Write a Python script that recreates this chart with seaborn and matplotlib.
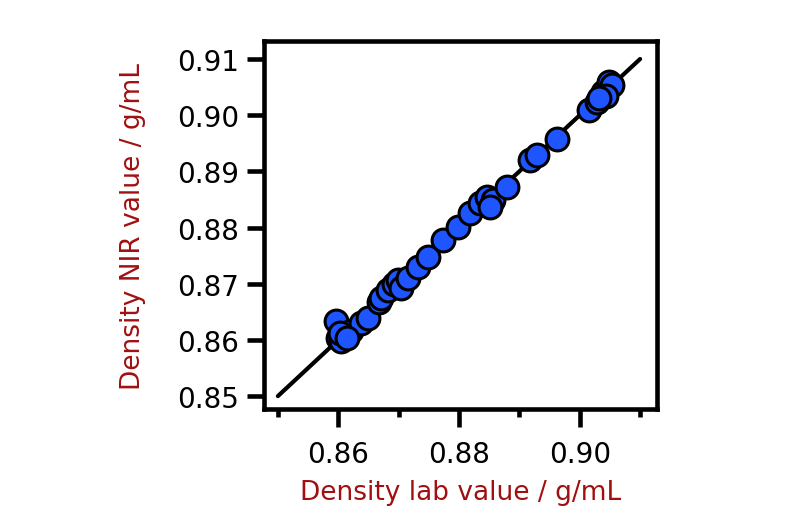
# Density NIR vs lab – parity plot
import seaborn as sns
import pandas as pd
import matplotlib.pyplot as plt
from matplotlib.ticker import MultipleLocator

# lab values (x) and NIR predictions (y)
lab_value = [0.8597, 0.8600, 0.8605, 0.8610, 0.8621, 0.8638, 0.8649,
             0.8603, 0.8615, 0.8668,
             0.8671, 0.8682, 0.8692, 0.8699, 0.8704, 0.8715, 0.8732,
             0.8748, 0.8774, 0.8798, 0.8819, 0.8835, 0.8847, 0.8857,
             0.8852, 0.8880, 0.8918, 0.8929, 0.8962, 0.9016, 0.9028,
             0.9038, 0.9049, 0.9054, 0.9044, 0.9032]
nir_value = [0.8634, 0.8604, 0.8598, 0.8611, 0.8616, 0.8630, 0.8639,
             0.8612, 0.8603, 0.8668,
             0.8675, 0.8688, 0.8700, 0.8706, 0.8693, 0.8711, 0.8729,
             0.8747, 0.8777, 0.8801, 0.8826, 0.8844, 0.8854, 0.8849,
             0.8837, 0.8872, 0.8921, 0.8930, 0.8957, 0.9010, 0.9023,
             0.9041, 0.9059, 0.9053, 0.9034, 0.9030]
ideal_line = [0.85, 0.91]

x_ticks = [0.86, 0.88, 0.90]
y_ticks = [0.85, 0.86, 0.87, 0.88, 0.89, 0.90, 0.91]

df = pd.DataFrame({"lab": lab_value, "nir": nir_value})
line_df = pd.DataFrame({"x": ideal_line, "y": ideal_line})

sns.set_style("ticks")
plt.rcParams["font.family"] = ["DejaVu Sans"]

label_red = "#A01010"
fig = plt.figure(figsize=(8, 5.1), dpi=100)
ax = fig.add_axes([0.33, 0.196, 0.49125, 0.7216])

sns.lineplot(data=line_df, x="x", y="y", color="black", linewidth=3.0, ax=ax, zorder=1)
sns.scatterplot(data=df, x="lab", y="nir", s=270, color="#1E55FF",
                edgecolor="black", linewidth=2.2, ax=ax, zorder=2)

ax.set_xlim(0.8477, 0.9128)
ax.set_ylim(0.8477, 0.9132)

for sp in ax.spines.values():
    sp.set_linewidth(3.3)
    sp.set_color("black")

# y axis
ax.set_yticks(y_ticks)
ax.set_yticklabels([f"{v:.2f}" for v in y_ticks])
ax.tick_params(axis="y", direction="out", length=12, width=3.3, pad=6,
               labelsize=20, colors="black")
ax.set_ylabel("Density NIR value / g/mL", fontsize=19, color=label_red, labelpad=22)

# x axis
ax.set_xticks(x_ticks)
ax.set_xticklabels([f"{v:.2f}" for v in x_ticks])
ax.xaxis.set_minor_locator(MultipleLocator(0.01))
ax.tick_params(axis="x", which="major", direction="out", length=13, width=3.3,
               pad=9, labelsize=20, colors="black")
ax.tick_params(axis="x", which="minor", bottom=True, direction="out", length=6,
               width=3.3, colors="black")
ax.set_xlabel("Density lab value / g/mL", fontsize=19, color=label_red, labelpad=8)

fig.savefig("out.png", dpi=100)
plt.close(fig)
